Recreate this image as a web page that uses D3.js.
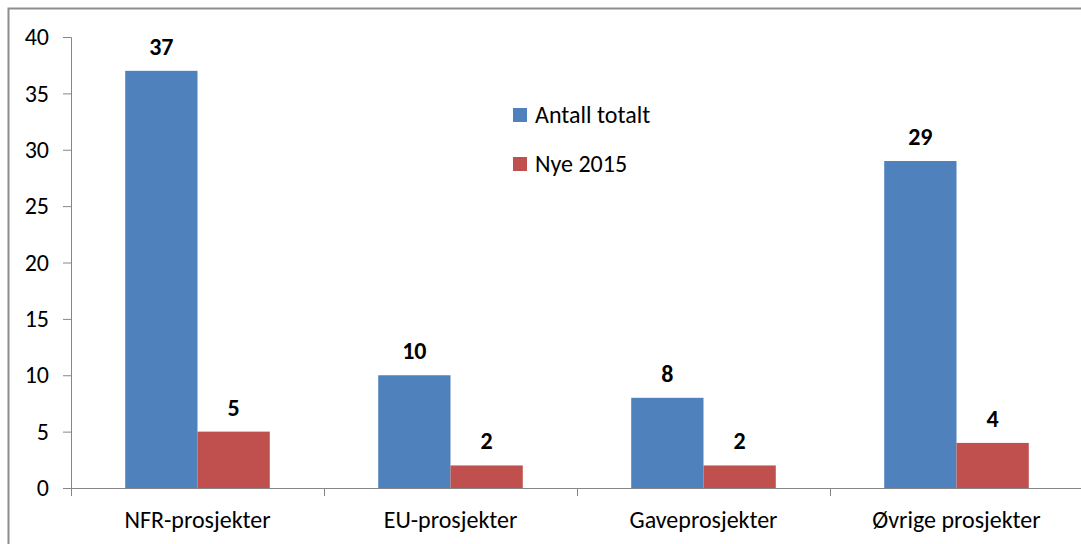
<!DOCTYPE html>
<html>
<head>
<meta charset="utf-8">
<script src="https://cdn.jsdelivr.net/npm/d3@7"></script>
<style>
  body { margin: 0; background: #fff; overflow: hidden; }
  text { font-family: Carlito, Lato, "Open Sans", sans-serif; fill: #000; }
</style>
</head>
<body>
<svg id="chart" width="1081" height="544"></svg>
<script>
// data
var categories = ["NFR-prosjekter", "EU-prosjekter", "Gaveprosjekter", "Øvrige prosjekter"];
var seriesNames = ["Antall totalt", "Nye 2015"];
var antallTotalt = [37, 10, 8, 29];
var nye2015 = [5, 2, 2, 4];
var yTicks = [0, 5, 10, 15, 20, 25, 30, 35, 40];

var colors = ["#4f81bd", "#c0504d"];
var plotLeft = 71, plotRight = 1083, plotTop = 37, plotBottom = 488;

var svg = d3.select("#chart");

// outer frame (only top and left edges are inside the picture)
svg.append("path")
  .attr("d", "M8.5,560V8.5H1100")
  .attr("fill", "none")
  .attr("stroke", "#8e8e8e")
  .attr("stroke-width", 2);

var x0 = d3.scaleBand()
  .domain(categories)
  .range([plotLeft, plotRight]);

var x1 = d3.scaleBand()
  .domain(seriesNames)
  .range([0, x0.bandwidth()])
  .paddingOuter(0.75);

var y = d3.scaleLinear()
  .domain([0, 40])
  .range([plotBottom, plotTop]);

// y axis
var yAxis = d3.axisLeft(y)
  .tickValues(yTicks)
  .tickSize(8)
  .tickPadding(14);

var gy = svg.append("g")
  .attr("transform", "translate(" + plotLeft + ",0)")
  .call(yAxis);
gy.select(".domain").attr("stroke", "#868686").attr("d", "M-8," + (plotTop + 0.5) + "H0.5V" + (plotBottom + 8));
gy.selectAll(".tick line").attr("stroke", "#868686");
gy.selectAll(".tick text").style("font-size", "24px").attr("fill", "#000");

// x axis
var gx = svg.append("g")
  .attr("transform", "translate(0," + plotBottom + ")");
gx.append("line")
  .attr("x1", plotLeft).attr("x2", plotRight)
  .attr("y1", 0.5).attr("y2", 0.5)
  .attr("stroke", "#868686");
gx.selectAll(".ctick")
  .data(categories.slice(1))
  .enter()
  .append("line")
  .attr("x1", function(d) { return Math.round(x0(d)) + 0.5; })
  .attr("x2", function(d) { return Math.round(x0(d)) + 0.5; })
  .attr("y1", 0).attr("y2", 8)
  .attr("stroke", "#868686");
gx.selectAll(".clabel")
  .data(categories)
  .enter()
  .append("text")
  .attr("x", function(d) { return x0(d) + x0.bandwidth() / 2; })
  .attr("y", 40)
  .attr("text-anchor", "middle")
  .style("font-size", "24px")
  .text(function(d) { return d; });

// bars
var series = [antallTotalt, nye2015];
series.forEach(function(vals, s) {
  var g = svg.append("g");
  g.selectAll("rect")
    .data(vals)
    .enter()
    .append("rect")
    .attr("x", function(d, i) { return x0(categories[i]) + x1(seriesNames[s]); })
    .attr("y", function(d) { return y(d); })
    .attr("width", x1.bandwidth())
    .attr("height", function(d) { return plotBottom - y(d); })
    .attr("fill", colors[s]);

  g.selectAll("text")
    .data(vals)
    .enter()
    .append("text")
    .attr("x", function(d, i) { return x0(categories[i]) + x1(seriesNames[s]) + x1.bandwidth() / 2; })
    .attr("y", function(d) { return y(d) - 16; })
    .attr("text-anchor", "middle")
    .style("font-size", "24px")
    .style("font-weight", "bold")
    .text(function(d) { return d; });
});

// legend
var legend = svg.selectAll(".legend")
  .data(seriesNames)
  .enter()
  .append("g")
  .attr("class", "legend")
  .attr("transform", function(d, i) { return "translate(513," + (108 + i * 49) + ")"; });

legend.append("rect")
  .attr("width", 14).attr("height", 14)
  .attr("fill", function(d, i) { return colors[i]; });

legend.append("text")
  .attr("x", 22)
  .attr("y", 15)
  .style("font-size", "24px")
  .text(function(d) { return d; });
</script>
</body>
</html>
